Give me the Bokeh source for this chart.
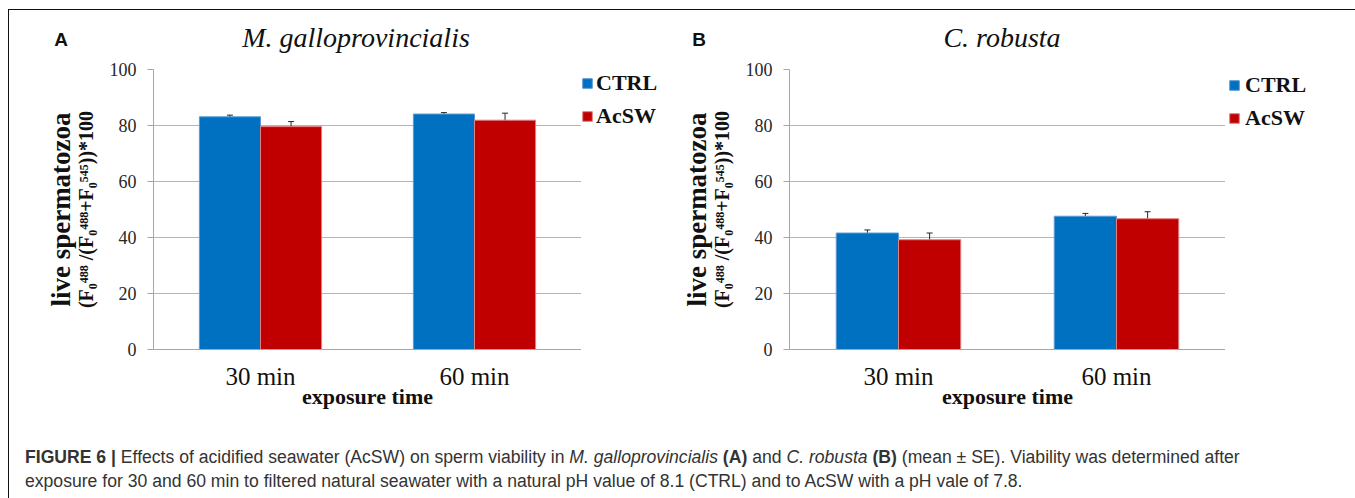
from bokeh.plotting import figure
from bokeh.models import (FactorRange, Range1d, ColumnDataSource, Whisker, TeeHead,
                          Legend, LegendItem, Title, Div, Spacer)
from bokeh.layouts import row, column
from bokeh.transform import dodge
from bokeh.embed import file_html
from bokeh.resources import INLINE

# ---------------- data ----------------
times = ["30 min", "60 min"]
series = ["CTRL", "AcSW"]
y_ticks = [0, 20, 40, 60, 80, 100]

mg_ctrl = [83.1, 84.1]
mg_ctrl_se = [0.6, 0.5]
mg_acsw = [79.6, 81.9]
mg_acsw_se = [1.8, 2.5]

cr_ctrl = [41.6, 47.6]
cr_ctrl_se = [1.1, 1.0]
cr_acsw = [39.2, 46.7]
cr_acsw_se = [2.4, 2.5]

# ---------------- style ----------------
SERIF = "Liberation Serif"
BLUE = "#0070C0"
RED = "#C00000"
BLUE_EDGE = "#5b9bd5"
RED_EDGE = "#e08080"
GRID = "#b5b5b5"
AXIS = "#a6a6a6"
INK = "#111111"

FIG_H = 371
TOP = 10
FRAME_H = 280


def panel(ctrl, ctrl_se, acsw, acsw_se, left, frame_w):
    p = figure(x_range=FactorRange(*times, range_padding=0), y_range=Range1d(0, 100),
               width=left + frame_w, height=FIG_H,
               min_border_left=left, min_border_right=0,
               min_border_top=TOP, min_border_bottom=FIG_H - TOP - FRAME_H,
               output_backend="svg", toolbar_location=None, tools="")
    p.outline_line_color = None
    p.xgrid.grid_line_color = None
    p.ygrid.grid_line_color = GRID
    p.yaxis.ticker = y_ticks
    p.yaxis.axis_line_color = AXIS
    p.yaxis.major_tick_line_color = AXIS
    p.yaxis.major_tick_out = 6
    p.yaxis.major_tick_in = 0
    p.yaxis.minor_tick_line_color = None
    p.yaxis.major_label_text_font = SERIF
    p.yaxis.major_label_text_font_size = "18px"
    p.yaxis.major_label_text_color = "#262626"
    p.yaxis.major_label_standoff = 11
    p.yaxis.axis_label = "(F\u2080\u2074\u2078\u2078 /(F\u2080\u2074\u2078\u2078+F\u2080\u2075\u2074\u2075))*100"
    p.yaxis.axis_label_text_font = SERIF
    p.yaxis.axis_label_text_font_style = "bold"
    p.yaxis.axis_label_text_font_size = "20px"
    p.yaxis.axis_label_text_color = INK
    p.yaxis.axis_label_standoff = 10

    p.add_layout(Title(text="live spermatozoa", align="center", text_font=SERIF,
                       text_font_style="bold", text_font_size="27px",
                       text_color=INK, standoff=-8), "left")

    p.xaxis.axis_line_color = AXIS
    p.xaxis.major_tick_line_color = None
    p.xaxis.minor_tick_line_color = None
    p.xaxis.major_label_text_font = SERIF
    p.xaxis.major_label_text_font_size = "25px"
    p.xaxis.major_label_text_color = INK
    p.xaxis.major_label_standoff = 7
    p.xaxis.axis_label = "exposure time"
    p.xaxis.axis_label_text_font = SERIF
    p.xaxis.axis_label_text_font_style = "bold"
    p.xaxis.axis_label_text_font_size = "22px"
    p.xaxis.axis_label_text_color = INK
    p.xaxis.axis_label_standoff = -9

    src = ColumnDataSource(dict(
        t=times, ctrl=ctrl, acsw=acsw,
        ctrl_lo=[v - e for v, e in zip(ctrl, ctrl_se)],
        ctrl_hi=[v + e for v, e in zip(ctrl, ctrl_se)],
        acsw_lo=[v - e for v, e in zip(acsw, acsw_se)],
        acsw_hi=[v + e for v, e in zip(acsw, acsw_se)],
    ))
    w = 0.2855
    p.vbar(x=dodge("t", -w / 2, range=p.x_range), top="ctrl", width=w, source=src,
           fill_color=BLUE, line_color=BLUE_EDGE, line_width=1)
    p.vbar(x=dodge("t", w / 2, range=p.x_range), top="acsw", width=w, source=src,
           fill_color=RED, line_color=RED_EDGE, line_width=1)
    for off, lo, hi in ((-w / 2, "ctrl_lo", "ctrl_hi"), (w / 2, "acsw_lo", "acsw_hi")):
        p.add_layout(Whisker(base=dodge("t", off, range=p.x_range), lower=lo, upper=hi,
                             source=src, line_color="#262626", line_width=1,
                             upper_head=TeeHead(size=6, line_color="#262626", line_width=1),
                             lower_head=TeeHead(size=6, line_color="#262626", line_width=1)))
    return p


def legend_fig(width, top_gap, margin, standoff):
    """Small figure holding only the legend, placed right of a panel."""
    lf = figure(width=width, height=FIG_H - top_gap, x_range=Range1d(0, 1), y_range=Range1d(0, 1),
                min_border=0, output_backend="svg", toolbar_location=None, tools="")
    lf.axis.visible = False
    lf.grid.visible = False
    lf.outline_line_color = None
    # legend proxies: one off-screen swatch per series (outside the visible range)
    proxy = ColumnDataSource(dict(x=[-5.0], top=[-5.0]))
    rc = lf.vbar(x="x", top="top", width=0.1, source=proxy,
                 fill_color=BLUE, line_color=BLUE_EDGE, line_width=1)
    ra = lf.vbar(x="x", top="top", width=0.1, source=proxy,
                 fill_color=RED, line_color=RED_EDGE, line_width=1)
    lf.add_layout(Legend(items=[LegendItem(label=series[0], renderers=[rc]),
                                LegendItem(label=series[1], renderers=[ra])],
                         location="top_left", margin=margin, padding=0, spacing=7,
                         glyph_width=12, glyph_height=12, label_standoff=standoff,
                         label_text_font=SERIF, label_text_font_style="bold",
                         label_text_font_size="22px", label_text_color=INK,
                         border_line_color=None, background_fill_alpha=0))
    return column(Spacer(width=width, height=top_gap, margin=0), lf)


pa = panel(mg_ctrl, mg_ctrl_se, mg_acsw, mg_acsw_se, left=143, frame_w=428)   # 571 wide
la = legend_fig(102, 11, 0, 3)
pb = panel(cr_ctrl, cr_ctrl_se, cr_acsw, cr_acsw_se, left=105, frame_w=437)   # 542 wide
lb = legend_fig(130, 10, 3, 5)


def span(txt, cx, cy, css):
    return ('<span style="position:absolute;left:%dpx;top:%dpx;transform:translate(-50%%,-50%%);'
            'white-space:nowrap;%s">%s</span>' % (cx, cy, css, txt))


letter_css = "font-family:'Liberation Sans',Arial,sans-serif;font-weight:bold;font-size:19px;color:#111;"
title_css = "font-family:'Liberation Serif',serif;font-style:italic;font-size:28px;color:#111;"
# header positions are relative to the content area (page x-10, y-10)
header_html = ('<div style="position:relative;width:1345px;height:49px;">'
               + span("A", 51, 30, letter_css)
               + span("M. galloprovincialis", 346, 28, title_css)
               + span("B", 689, 30, letter_css)
               + span("C. robusta", 992, 28, title_css)
               + '</div>')
header = Div(text=header_html, width=1345, height=49, margin=0)

caption_html = (
    '<div style="font-family:\'Liberation Sans\',Arial,sans-serif;font-size:17.6px;'
    'line-height:24px;color:#333333;padding:15px 0 0 15px;white-space:nowrap;">'
    '<b>FIGURE 6 |</b> Effects of acidified seawater (AcSW) on sperm viability in '
    '<i>M. galloprovincialis</i> <b>(A)</b> and <i>C. robusta</i> <b>(B)</b> '
    '(mean \u00b1 SE). Viability was determined after<br>'
    'exposure for 30 and 60 min to filtered natural seawater with a natural pH value of 8.1 '
    '(CTRL) and to AcSW with a pH vale of 7.8.</div>'
)
cap = Div(text=caption_html, width=1345, height=68, margin=0)

line_style = {"background-color": "#111111"}
layout = column(
    Spacer(width=1355, height=9, margin=0),
    row(Spacer(width=8, height=1, margin=0),
        Div(text="", width=1347, height=1, margin=0, styles=line_style)),
    row(Spacer(width=8, height=488, margin=0),
        Div(text="", width=1, height=488, margin=0, styles=line_style),
        Spacer(width=1, height=488, margin=0),
        column(header, row(pa, la, pb, lb), cap)),
)

open("out.html", "w").write(file_html(layout, INLINE))
